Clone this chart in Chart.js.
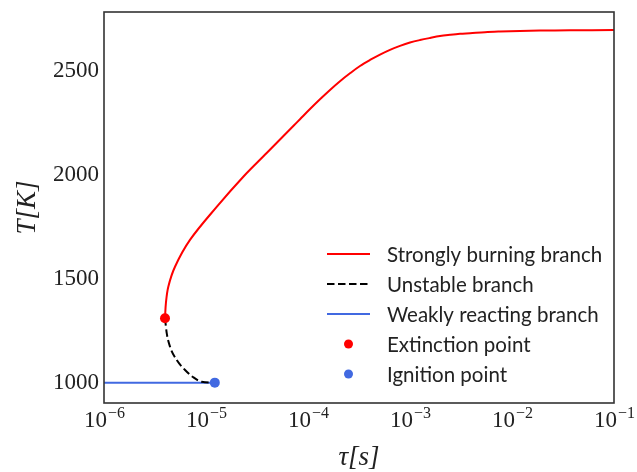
<!DOCTYPE html>
<html>
<head>
<meta charset="utf-8">
<script src="https://cdn.jsdelivr.net/npm/chart.js@4.4.1/dist/chart.umd.min.js"></script>
<style>
    html, body { margin: 0; padding: 0; background: #fff; }
    #wrap { width: 637px; height: 472px; }
</style>
</head>
<body>
<div id="wrap"><canvas id="chart" width="637" height="472"></canvas></div>
<script>
// Strongly burning branch (tau in s, T in K)
const strongTau = [3.963e-6, 4.045e-6, 4.27e-6, 4.967e-6, 6.966e-6, 1.273e-5, 2.321e-5, 3.936e-5, 7.176e-5, 8.348e-5,
                   1.046e-4, 1.311e-4, 1.643e-4, 2.059e-4, 2.581e-4, 3.234e-4, 4.053e-4, 5.081e-4, 6.367e-4, 7.98e-4,
                   1.0e-3, 1.253e-3, 1.571e-3, 1.968e-3, 2.467e-3, 3.092e-3, 3.875e-3, 5.436e-3, 7.624e-3, 1.198e-2,
                   1.882e-2, 3.704e-2, 1.0e-1];
const strongT   = [1311, 1384, 1463, 1559, 1688, 1847, 1992, 2106, 2236, 2269,
                   2318, 2365, 2410, 2452, 2490, 2525, 2554, 2580, 2603, 2622,
                   2638, 2650, 2660, 2669, 2675, 2680, 2683, 2688, 2691, 2694,
                   2695.5, 2697, 2698];

// Unstable branch
const unstableTau = [3.963e-6, 4.12e-6, 4.44e-6, 5.16e-6, 6.23e-6, 7.50e-6, 9.07e-6, 1.22e-5];
const unstableT   = [1311, 1239, 1174, 1110, 1062, 1027, 1005, 1001];

// Weakly reacting branch
const weakTau = [1e-6, 1.22e-5];
const weakT   = [1000, 1001];

// Turning points
const extinctionTau = [3.963e-6];
const extinctionT   = [1311];
const ignitionTau = [1.22e-5];
const ignitionT   = [1001];

// Axes
const xTickExps = [-6, -5, -4, -3, -2, -1];
const yTicks = [1000, 1500, 2000, 2500];

const RED = '#ff0000';
const BLUE = '#4169e1';
const AXIS = '#333333';
const TEXT = '#222222';

function toPoints(xs, ys) {
    return xs.map((x, i) => ({ x: x, y: ys[i] }));
}

// Рамка вокруг области графика
const boxPlugin = {
    id: 'box',
    afterDraw(chart) {
        const a = chart.chartArea;
        const ctx = chart.ctx;
        ctx.save();
        ctx.strokeStyle = AXIS;
        ctx.lineWidth = 1.6;
        ctx.strokeRect(a.left, a.top, a.right - a.left, a.bottom - a.top);
        ctx.restore();
    }
};

// Подписи оси X в виде 10^n
const powerTicksPlugin = {
    id: 'powerTicks',
    afterDraw(chart) {
        const scale = chart.scales.x;
        const ctx = chart.ctx;
        ctx.save();
        ctx.fillStyle = TEXT;
        ctx.textBaseline = 'alphabetic';
        ctx.textAlign = 'left';
        xTickExps.forEach(e => {
            const px = scale.getPixelForValue(Math.pow(10, e));
            const base = '10';
            const sup = '\u2212' + Math.abs(e);
            ctx.font = '23px "Liberation Serif"';
            const wb = ctx.measureText(base).width;
            ctx.font = '16px "Liberation Serif"';
            const ws = ctx.measureText(sup).width;
            const x0 = px - (wb + ws) / 2;
            ctx.font = '23px "Liberation Serif"';
            ctx.fillText(base, x0, 427);
            ctx.font = '16px "Liberation Serif"';
            ctx.fillText(sup, x0 + wb + 1, 418);
        });
        ctx.restore();
    }
};

// Легенда внутри области графика
const legendPlugin = {
    id: 'innerLegend',
    afterDraw(chart) {
        const ctx = chart.ctx;
        const x1 = 327, x2 = 370, tx = 387, y0 = 254, dy = 30;
        ctx.save();
        ctx.font = '20.5px Lato';
        ctx.textBaseline = 'middle';
        ctx.textAlign = 'left';
        chart.data.datasets.forEach((ds) => {
            const y = y0 + ds.legendRow * dy;
            if (ds.showLine === false) {
                ctx.fillStyle = ds.backgroundColor;
                ctx.beginPath();
                ctx.arc((x1 + x2) / 2, y, 4.5, 0, Math.PI * 2);
                ctx.fill();
            } else {
                ctx.strokeStyle = ds.borderColor;
                ctx.lineWidth = ds.borderWidth;
                ctx.setLineDash(ds.borderDash || []);
                ctx.beginPath();
                ctx.moveTo(x1, y);
                ctx.lineTo(x2, y);
                ctx.stroke();
                ctx.setLineDash([]);
            }
            ctx.fillStyle = TEXT;
            ctx.fillText(ds.label, tx, y + 1);
        });
        ctx.restore();
    }
};

const ctx = document.getElementById('chart').getContext('2d');

new Chart(ctx, {
    type: 'line',
    data: {
        datasets: [
            {
                label: 'Extinction point',
                data: toPoints(extinctionTau, extinctionT),
                showLine: false,
                backgroundColor: RED,
                borderColor: RED,
                pointRadius: 5,
                pointBorderWidth: 0,
                legendRow: 3,
                order: 0
            },
            {
                label: 'Ignition point',
                data: toPoints(ignitionTau, ignitionT),
                showLine: false,
                backgroundColor: BLUE,
                borderColor: BLUE,
                pointRadius: 5,
                pointBorderWidth: 0,
                legendRow: 4,
                order: 0
            },
            {
                label: 'Strongly burning branch',
                data: toPoints(strongTau, strongT),
                borderColor: RED,
                borderWidth: 2,
                pointRadius: 0,
                tension: 0.35,
                fill: false,
                legendRow: 0,
                order: 1
            },
            {
                label: 'Unstable branch',
                data: toPoints(unstableTau, unstableT),
                borderColor: '#000000',
                borderWidth: 2,
                borderDash: [7.5, 3.5],
                pointRadius: 0,
                cubicInterpolationMode: 'monotone',
                fill: false,
                legendRow: 1,
                order: 1
            },
            {
                label: 'Weakly reacting branch',
                data: toPoints(weakTau, weakT),
                borderColor: BLUE,
                borderWidth: 2,
                pointRadius: 0,
                fill: false,
                legendRow: 2,
                order: 1
            }
        ]
    },
    options: {
        responsive: false,
        animation: false,
        devicePixelRatio: 1,
        layout: {
            padding: { top: 12, right: 23, left: 0, bottom: 0 }
        },
        plugins: {
            legend: { display: false },
            tooltip: { enabled: false }
        },
        scales: {
            x: {
                type: 'logarithmic',
                min: 1e-6,
                max: 1e-1,
                grid: { display: false, drawTicks: false },
                border: { display: false },
                ticks: { display: false },
                title: {
                    display: true,
                    text: '\u03c4[s]',
                    color: TEXT,
                    font: { family: '"Liberation Serif"', size: 27, style: 'italic', lineHeight: 1 },
                    padding: { top: 0, bottom: 1 }
                },
                afterFit(scale) {
                    scale.height = 69;
                    scale.paddingLeft = 0;
                    scale.paddingRight = 0;
                }
            },
            y: {
                type: 'linear',
                min: 903,
                max: 2785,
                grid: { display: false, drawTicks: false },
                border: { display: false },
                afterBuildTicks(scale) {
                    scale.ticks = yTicks.map(v => ({ value: v }));
                },
                ticks: {
                    color: TEXT,
                    padding: 5,
                    font: { family: '"Liberation Serif"', size: 23 },
                    callback: (v) => String(v)
                },
                title: {
                    display: true,
                    text: 'T[K]',
                    color: TEXT,
                    font: { family: '"Liberation Serif"', size: 27, style: 'italic', lineHeight: 1 },
                    padding: { top: 14, bottom: 0 }
                },
                afterFit(scale) {
                    scale.width = 104;
                    scale.paddingTop = 0;
                    scale.paddingBottom = 0;
                }
            }
        }
    },
    plugins: [boxPlugin, powerTicksPlugin, legendPlugin]
});
</script>
</body>
</html>
